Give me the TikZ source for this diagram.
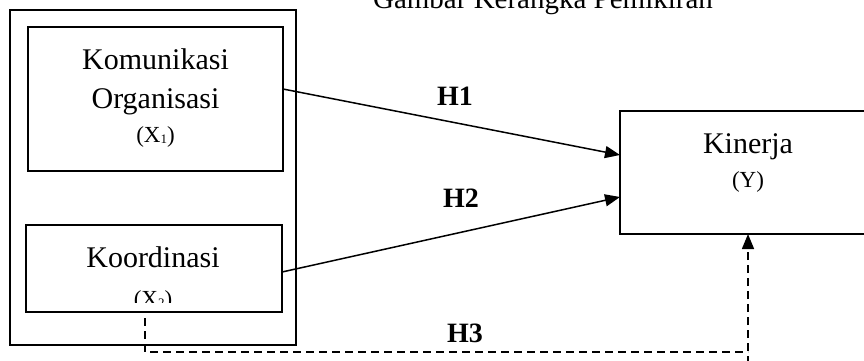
\documentclass[tikz,border=0pt]{standalone}
\usepackage{fontspec}
\setmainfont{Liberation Serif}
\usetikzlibrary{arrows.meta}
\begin{document}
\begin{tikzpicture}[x=1pt,y=-1pt,
  boxframe/.style={draw,line width=1.7pt,inner sep=0pt,outer sep=0pt},
  biglabel/.style={anchor=base,inner sep=0pt,font=\fontsize{30}{35}\selectfont},
  smalllabel/.style={anchor=base,inner sep=0pt,font=\fontsize{23}{26}\selectfont},
  hlabel/.style={anchor=base,inner sep=0pt,font=\fontsize{28}{32}\selectfont\bfseries},
  link/.style={line width=1.5pt,-{Triangle[length=15pt,width=12pt]}},
  dashlink/.style={line width=1.5pt,dash pattern=on 8pt off 5pt}]
\useasboundingbox (0,0) rectangle (864,360);
\clip (0,0) rectangle (864,360);
% boxes
\node[boxframe,minimum width=286pt,minimum height=335pt] (outer) at (153,177.5) {};
\node[boxframe,minimum width=255pt,minimum height=144pt] (x1box) at (155.5,99) {};
\node[boxframe,minimum width=256pt,minimum height=87pt] (x2box) at (154,268.5) {};
\node[boxframe,minimum width=256pt,minimum height=123pt] (ybox) at (748,172.5) {};
% title
\node[anchor=base,inner sep=0pt,font=\fontsize{29}{35}\selectfont] (title) at (543,8) {Gambar Kerangka Pemikiran};
% texts
\node[biglabel] (t1) at (155.5,69) {Komunikasi};
\node[biglabel] (t2) at (155.5,108) {Organisasi};
\node[smalllabel] (t3) at (155.5,142) {(X\raisebox{-1pt}{\fontsize{13}{13}\selectfont 1})};
\node[biglabel] (t4) at (153,267) {Koordinasi};
\begin{scope}
\clip (30,280) rectangle (278,302);
\node[smalllabel] (t5) at (153,306) {(X\raisebox{-1pt}{\fontsize{13}{13}\selectfont 2})};
\end{scope}
\node[biglabel] (t6) at (748,153) {Kinerja};
\node[smalllabel] (t7) at (748,187) {(Y)};
% hypothesis labels
\node[hlabel] (h1) at (455,105) {H1};
\node[hlabel] (h2) at (461,207) {H2};
\node[hlabel] (h3) at (465,342) {H3};
% connectors
\draw[link] ([yshift=10pt]x1box.east) -- ([yshift=17.5pt]ybox.west);
\draw[link] ([yshift=-3.5pt]x2box.east) -- ([yshift=-24.5pt]ybox.west);
\coordinate (d1) at (145,318);
\coordinate (d2) at (145,352);
\coordinate (d3) at (748,352);
\coordinate (d4) at (748,364);
\draw[dashlink] (d1) -- (d2) -- (d3);
\draw[dashlink,-{Triangle[length=15pt,width=12pt]}] (d4) -- (ybox.south);
\end{tikzpicture}
\end{document}
